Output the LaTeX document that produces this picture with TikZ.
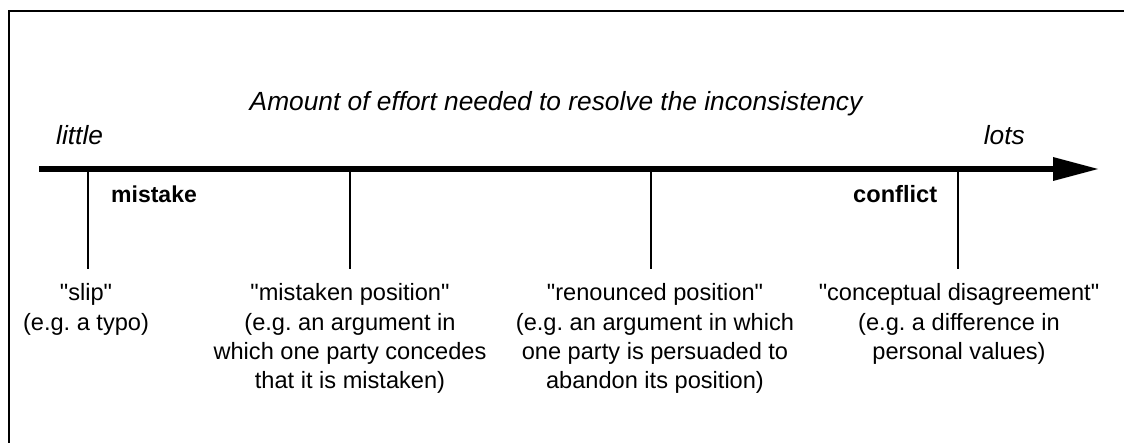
\documentclass[tikz,border=0pt]{standalone}
\usepackage{fontspec}
\setmainfont{Liberation Sans}
\frenchspacing
\font\qfont="Liberation Sans" at 23.6pt
\newcommand{\dq}{{\qfont\char34}}
\begin{document}
\begin{tikzpicture}[x=1pt,y=-1pt,
  lbl/.style={font=\fontsize{23.6}{29.3}\selectfont, inner sep=0pt, anchor=base},
  ital/.style={lbl, font=\fontsize{26.3}{30}\selectfont\itshape},
  multi/.style={lbl, align=center},
  tick/.style={line width=2pt},
  frame/.style={line width=2pt, line join=miter}]
\useasboundingbox (0,0) rectangle (1124,443);
% frame (only top and left edges visible)
\coordinate (fbl) at (9,443);
\coordinate (ftl) at (9,11);
\coordinate (ftr) at (1124,11);
\draw[frame] (fbl) -- (ftl) -- (ftr);
% axis
\coordinate (axL) at (39,169);
\coordinate (axE) at (1055,169);
\coordinate (axT) at (1098,169);
\coordinate (ahU) at (1053,157);
\coordinate (ahD) at (1053,181);
\draw[line width=6pt] (axL) -- (axE);
\fill (ahU) -- (axT) -- (ahD) -- cycle;
% ticks
\foreach \n/\x in {t1/88, t2/350, t3/651, t4/958}{
  \coordinate (\n a) at (\x,169);
  \coordinate (\n b) at (\x,269);
  \draw[tick] (\n a) -- (\n b);
}
% texts
\node[ital] (title) at (556,111) {Amount of effort needed to resolve the inconsistency};
\node[ital, anchor=base west] (little) at (56,145) {little};
\node[ital, anchor=base east] (lots) at (1025,145) {lots};
\node[lbl, anchor=base west] (mistake) at (111,203) {\fontsize{23}{29}\selectfont\bfseries mistake};
\node[lbl, anchor=base west] (conflict) at (853,203) {\bfseries conflict};
% base anchor of a multi-line node is the baseline of its last line
\node[multi] (slip) at (86,330.3) {\dq slip\dq\\(e.g. a typo)};
\node[multi] (mispos) at (350,388.9) {\dq mistaken position\dq\\(e.g. an argument in\\which one party concedes\\that it is mistaken)};
\node[multi] (renpos) at (655,388.9) {\dq renounced position\dq\\(e.g. an argument in which\\one party is persuaded to\\abandon its position)};
\node[multi] (concdis) at (959,359.6) {\dq conceptual disagreement\dq\\(e.g. a difference in\\personal values)};
\end{tikzpicture}
\end{document}
